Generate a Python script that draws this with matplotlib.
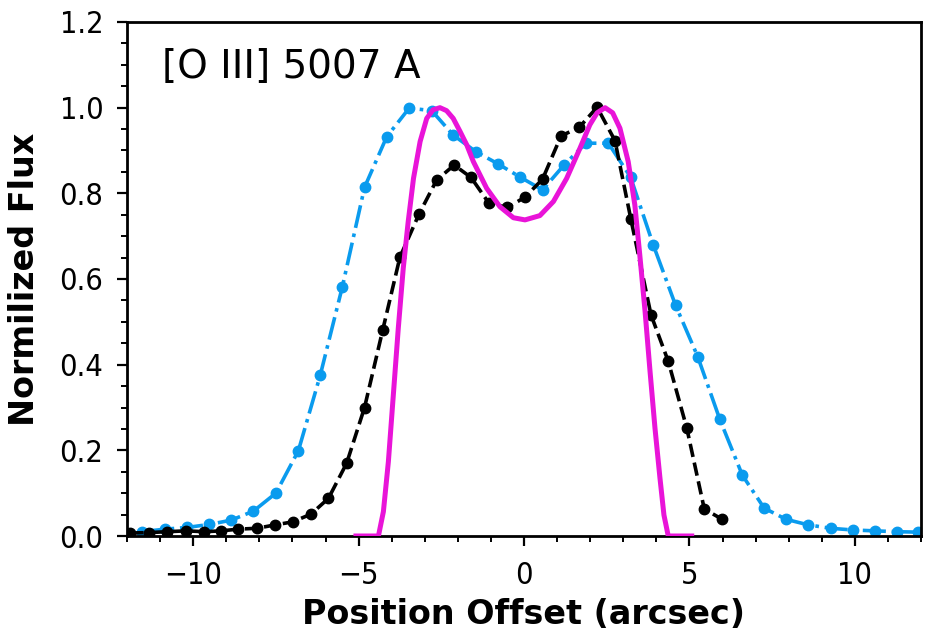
import matplotlib
matplotlib.use("Agg")
import matplotlib.pyplot as plt
from matplotlib.ticker import MultipleLocator

# ------------------------------------------------------------
# data
# ------------------------------------------------------------

# observed profile 1 (blue, dash-dot)
blue_x = [-11.55, -10.85, -10.18, -9.51, -8.85, -8.18, -7.50, -6.82, -6.16,
          -5.49, -4.82, -4.15, -3.47, -2.79, -2.14, -1.45, -0.79, -0.12,
          0.56, 1.21, 1.87, 2.55, 3.22, 3.91, 4.58, 5.25, 5.92, 6.60,
          7.26, 7.92, 8.59, 9.27, 9.95, 10.61, 11.27, 11.92]
blue_y = [0.010, 0.016, 0.020, 0.027, 0.037, 0.058, 0.100, 0.199, 0.375,
          0.582, 0.814, 0.932, 0.999, 0.993, 0.936, 0.897, 0.869, 0.838,
          0.808, 0.866, 0.917, 0.917, 0.838, 0.679, 0.539, 0.419, 0.272, 0.142,
          0.065, 0.039, 0.026, 0.018, 0.014, 0.012, 0.010, 0.009]

# observed profile 2 (black, dashed)
black_x = [-11.90, -11.32, -10.80, -10.21, -9.66, -9.16, -8.63, -8.07,
           -7.52, -6.99, -6.44, -5.91, -5.36, -4.82, -4.27, -3.75, -3.17,
           -2.64, -2.11, -1.60, -1.06, -0.50, 0.03, 0.56, 1.12, 1.67, 2.21,
           2.75, 3.23, 3.84, 4.36, 4.92, 5.45, 5.99]
black_y = [0.007, 0.008, 0.010, 0.012, 0.010, 0.012, 0.016, 0.018,
           0.026, 0.033, 0.051, 0.088, 0.170, 0.300, 0.481, 0.651, 0.752,
           0.831, 0.866, 0.837, 0.777, 0.767, 0.791, 0.833, 0.934, 0.954, 1.001,
           0.923, 0.740, 0.516, 0.408, 0.252, 0.063, 0.039]

# model profile (magenta, solid)
model_x = [-5.08, -4.40, -4.25, -4.10, -3.95, -3.80, -3.65, -3.50, -3.34,
           -3.14, -2.94, -2.75, -2.54, -2.34, -2.14, -1.93, -1.73, -1.53,
           -1.33, -1.13, -0.73, -0.32, 0.03, 0.48, 0.89, 1.29, 1.69, 1.99,
           2.21, 2.45, 2.68, 2.90, 3.15, 3.35, 3.50, 3.66, 3.81, 3.96, 4.11,
           4.23, 4.36, 5.07]
model_y = [0.0, 0.0, 0.057, 0.173, 0.329, 0.485, 0.625, 0.734, 0.835,
           0.921, 0.975, 0.995, 1.0, 0.993, 0.975, 0.944, 0.913, 0.874,
           0.843, 0.812, 0.769, 0.743, 0.738, 0.748, 0.781, 0.835, 0.905, 0.960,
           0.988, 1.0, 0.988, 0.952, 0.874, 0.773, 0.656, 0.524, 0.384, 0.251, 0.135,
           0.049, 0.0, 0.0]

label_text = "[O III] 5007 A"

# ------------------------------------------------------------
# figure
# ------------------------------------------------------------

# tick labels in the reference look narrower than the axis labels
plt.rcParams["font.stretch"] = "condensed"

W, H = 935, 642
fig = plt.figure(figsize=(W / 100, H / 100), dpi=100)
ax = fig.add_axes([127 / W, (H - 536) / H, 794 / W, 514 / H])

ax.plot(blue_x, blue_y, linestyle="-.", color="#0A9BEE", lw=2.6,
        marker="o", markersize=7.5, zorder=2)
ax.plot(black_x, black_y, linestyle="--", color="black", lw=2.6,
        marker="o", markersize=7.5, zorder=3)
ax.plot(model_x, model_y, linestyle="-", color="#E914D8", lw=3.6, zorder=4)

ax.set_xlim(-12, 12)
ax.set_ylim(0, 1.2)

ax.xaxis.set_major_locator(MultipleLocator(5))
ax.xaxis.set_minor_locator(MultipleLocator(1))
ax.yaxis.set_major_locator(MultipleLocator(0.2))
ax.yaxis.set_minor_locator(MultipleLocator(0.05))
ax.yaxis.set_major_formatter(plt.FuncFormatter(lambda v, p: f"{v:.1f}"))

ax.tick_params(which="major", length=7, width=1.6, labelsize=22)
ax.tick_params(axis="x", which="major", pad=11)
ax.tick_params(axis="y", which="major", pad=10)
ax.tick_params(which="minor", length=4, width=1.4)
for sp in ax.spines.values():
    sp.set_linewidth(2)

ax.set_xlabel("Position Offset (arcsec)", fontsize=24, fontweight="bold",
              fontstretch="normal")
ax.set_ylabel("Normilized Flux", fontsize=24, fontweight="bold",
              fontstretch="normal")
ax.xaxis.set_label_coords(0.5, -0.12)
ax.yaxis.set_label_coords(-0.108, 0.5)

ax.text(0.044, 0.95, label_text, transform=ax.transAxes,
        fontsize=28, va="top", ha="left", fontstretch="normal")

fig.savefig("out.png", dpi=100)
plt.close(fig)
